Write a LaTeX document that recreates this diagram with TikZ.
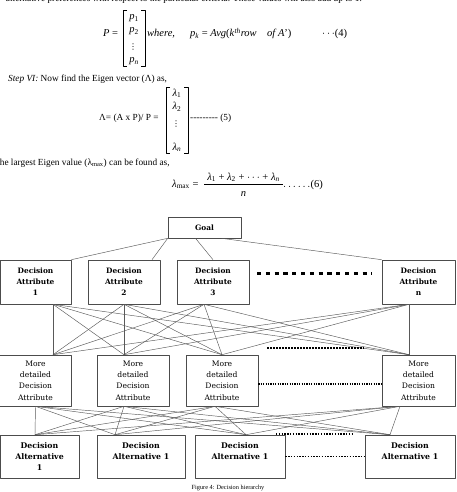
\documentclass[tikz,border=0pt]{standalone}
\usepackage{fontspec}
\setmainfont{Liberation Serif}
\newfontfamily\boxfont{DejaVu Serif}
\newfontfamily\symfont{DejaVu Sans}
\begin{document}
\begin{tikzpicture}[x=1pt,y=-1pt, line join=round,
    txt/.style={inner sep=0pt, font=\fontsize{9.3}{11}\selectfont},
    eqn/.style={inner sep=0pt, font=\fontsize{10.5}{12}\selectfont},
    vdot/.style={inner sep=0pt, font=\symfont\fontsize{8}{9}\selectfont},
    hbox/.style={draw=black!70, line width=0.6pt, inner sep=0pt, align=center},
    attrbox/.style={hbox, minimum height=44pt, font=\boxfont\bfseries\fontsize{7.4}{11}\selectfont},
    morebox/.style={hbox, minimum width=72pt, minimum height=51pt, font=\boxfont\fontsize{7.6}{11.3}\selectfont},
    altbox/.style={hbox, minimum height=43pt, font=\boxfont\bfseries\fontsize{7.8}{11}\selectfont},
    link/.style={draw=black!65, line width=0.45pt}]
\useasboundingbox (0,0) rectangle (456,492);
% text above the figure
\node[txt, anchor=base east] (txtA) at (362,2) {alternative preferences with respect to the particular criteria. These values will also add up to 1.};
\node[eqn, anchor=base west] (eqP) at (103,37) {\textit{P} =};
\draw (127,10) -- (123,10) -- (123,66) -- (127,66) (141,10) -- (145,10) -- (145,66) -- (141,66);
\node[eqn, anchor=base] (p1) at (134,20) {\textit{p}\textsubscript{1}};
\node[eqn, anchor=base] (p2) at (134,33) {\textit{p}\textsubscript{2}};
\node[vdot] (pdots) at (133,47) {⋮};
\node[eqn, anchor=base] (pn) at (134,63) {\textit{p}\textsubscript{\textit{n}}};
\node[eqn, anchor=base west] (eqW) at (147,37) {\textit{where,}};
\node[eqn, anchor=base west] (eqK) at (190,37) {\textit{p}\textsubscript{\textit{k}} = \textit{Avg}(\textit{k}\textsuperscript{\textit{th}}\textit{row}\quad\textit{of A}')};
\node[eqn, anchor=base west] (eqF) at (322,37) {$\cdots$(4)};
\node[txt, anchor=base west] (txtB) at (8,82) {\textit{Step VI:} Now find the Eigen vector (Λ) as,};
\node[txt, anchor=base west] (eqL) at (99,121) {Λ= (A x P)/ P =};
\draw (170,87) -- (166,87) -- (166,153) -- (170,153) (184,87) -- (188,87) -- (188,153) -- (184,153);
\node[eqn, anchor=base] (l1) at (177,96) {\textit{λ}\textsubscript{1}};
\node[eqn, anchor=base] (l2) at (177,110) {\textit{λ}\textsubscript{2}};
\node[vdot] (ldots) at (176,124) {⋮};
\node[eqn, anchor=base] (ln) at (177,150) {\textit{λ}\textsubscript{\textit{n}}};
\node[txt, anchor=base west] (eqLF) at (190,121) {-{}-{}-{}-{}-{}-{}-{}-{}- (5)};
\node[txt, anchor=base west] (txtC) at (-6,165) {The largest Eigen value (λ\textsubscript{max}) can be found as,};
\node[eqn, anchor=base west] (eqM) at (172,187) {\textit{λ}\textsubscript{max} =};
\node[eqn, anchor=base] (eqN) at (243.5,180) {\textit{λ}\textsubscript{1} + \textit{λ}\textsubscript{2} + $\cdots$ + \textit{λ}\textsubscript{\textit{n}}};
\draw (204,184) -- (283,184);
\node[eqn, anchor=base] (eqD) at (243.5,196) {\textit{n}};
\node[eqn, anchor=base west] (eqMF) at (283,187) {$\ldots\ldots$(6)};
% hierarchy
\node[hbox, minimum width=73pt, minimum height=21pt, font=\boxfont\bfseries\fontsize{7.4}{9}\selectfont] (goal) at (204.5,227.5) {Goal};
\node[attrbox, minimum width=71pt] (da1) at (35.5,282) {Decision\\Attribute\\1};
\node[attrbox, minimum width=72pt] (da2) at (124,282) {Decision\\Attribute\\2};
\node[attrbox, minimum width=72pt] (da3) at (213,282) {Decision\\Attribute\\3};
\node[attrbox, minimum width=73pt] (dan) at (418.5,282) {Decision\\Attribute\\n};
\node[morebox] (md1) at (35.5,380.5) {More\\detailed\\Decision\\Attribute};
\node[morebox] (md2) at (133,380.5) {More\\detailed\\Decision\\Attribute};
\node[morebox] (md3) at (222,380.5) {More\\detailed\\Decision\\Attribute};
\node[morebox, minimum width=73pt] (mdn) at (418.5,380.5) {More\\detailed\\Decision\\Attribute};
\node[altbox, minimum width=79pt] (alt1) at (39.5,456.5) {Decision\\Alternative\\1};
\node[altbox, minimum width=88pt] (alt2) at (141,456.5) {Decision\\Alternative 1\\\mbox{}};
\node[altbox, minimum width=90pt] (alt3) at (240,456.5) {Decision\\Alternative 1\\\mbox{}};
\node[altbox, minimum width=90pt] (altn) at (410,456.5) {Decision\\Alternative 1\\\mbox{}};
% goal links
\draw[link] (goal.south west) -- (da1.north east);
\draw[link] (goal.south west) -- ([xshift=28pt]da2.north);
\draw[link] ([xshift=-9pt]goal.south) -- (da3.north);
\draw[link] ([xshift=17pt]goal.south) -- (dan.north west);
% attachment points
\coordinate (ab1) at ([xshift=17.5pt]da1.south);
\coordinate (ab2) at (da2.south);
\coordinate (ab3) at ([xshift=-9pt]da3.south);
\coordinate (ab4) at ([xshift=-9.5pt]dan.south);
\coordinate (mt1) at ([xshift=17.5pt]md1.north);
\coordinate (mt2) at ([xshift=-9pt]md2.north);
\coordinate (mt3) at (md3.north);
\coordinate (mt4) at ([xshift=-9.5pt]mdn.north);
\coordinate (mb1) at (md1.south);
\coordinate (mb2) at ([xshift=-9pt]md2.south);
\coordinate (mb3) at ([xshift=-7pt]md3.south);
\coordinate (mb4) at ([xshift=-18.5pt]mdn.south);
\coordinate (at1) at ([xshift=-4.5pt]alt1.north);
\coordinate (at2) at ([xshift=-26pt]alt2.north);
\coordinate (at3) at ([xshift=6pt]alt3.north);
\coordinate (at4) at ([xshift=-20pt]altn.north);
\foreach \i in {1,...,4}
  \foreach \j in {1,...,4} {
    \draw[link] (ab\i) -- (mt\j);
    \draw[link] (mb\i) -- (at\j);
  }
% ellipsis marks
\coordinate (dsA) at (257,273.5);
\coordinate (dsB) at (372,273.5);
\draw[line width=3pt, dash pattern=on 4.2pt off 4.6pt] (dsA) -- (dsB);
\coordinate (dtA) at (267,348);
\coordinate (dtB) at (364,348);
\draw[line width=1.6pt, dash pattern=on 1.6pt off 1.4pt] (dtA) -- (dtB);
\draw[line width=1.1pt, dash pattern=on 1.2pt off 1.2pt] ([yshift=-3.5pt]md3.east) -- ([yshift=-3.5pt]mdn.west);
\coordinate (dtC) at (276,434);
\coordinate (dtD) at (353,434);
\draw[line width=1.3pt, dash pattern=on 1.4pt off 1.4pt] (dtC) -- (dtD);
\draw[line width=1.3pt, dash pattern=on 1.4pt off 1.4pt] (alt3.east) -- (altn.west);
\node[inner sep=0pt, font=\fontsize{6.3}{7}\selectfont, anchor=base] (cap) at (228,489) {Figure 4: Decision hierarchy};
\end{tikzpicture}
\end{document}
